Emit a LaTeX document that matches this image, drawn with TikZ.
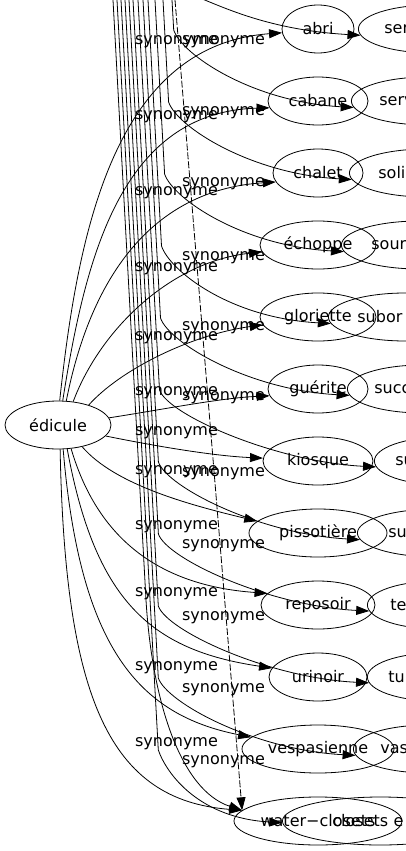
\documentclass[tikz,border=0pt]{standalone}
\usepackage{fontspec}
\setmainfont{DejaVu Sans}
\usetikzlibrary{arrows.meta,shapes.geometric}
\begin{document}
\begin{tikzpicture}[x=1pt,y=-1pt,
  every node/.style={font=\fontsize{16}{19}\selectfont},
  wnode/.style={ellipse, draw, line width=0.8pt, inner sep=0pt, minimum height=48pt},
  frag/.style={ellipse, draw, line width=0.8pt, inner sep=0pt, minimum height=48pt,
    text width=96pt, align=left, anchor=west},
  lbl/.style={inner sep=0pt},
  e/.style={line width=0.8pt, -{Triangle[length=13pt,width=9pt]}},
  de/.style={e, dash pattern=on 7pt off 2pt},
]
\useasboundingbox (0,0) rectangle (406,851);
\clip (0,0) rectangle (406,851);

% source node
\node[wnode, minimum width=106pt] (edicule) at (58,425) {édicule};

% rank 1
\node[wnode, minimum width=72pt]  (abri)        at (318,29)  {abri};
\node[wnode, minimum width=100pt] (cabane)      at (318,101) {cabane};
\node[wnode, minimum width=90pt]  (chalet)      at (318,173) {chalet};
\node[wnode, minimum width=116pt] (echoppe)     at (318,245) {échoppe};
\node[wnode, minimum width=116pt] (gloriette)   at (318,317) {gloriette};
\node[wnode, minimum width=100pt] (guerite)     at (318,389) {guérite};
\node[wnode, minimum width=110pt] (kiosque)     at (318,461) {kiosque};
\node[wnode, minimum width=138pt] (pissotiere)  at (318,533) {pissotière};
\node[wnode, minimum width=114pt] (reposoir)    at (318,605) {reposoir};
\node[wnode, minimum width=98pt]  (urinoir)     at (318,677) {urinoir};
\node[wnode, minimum width=152pt] (vespasienne) at (318,749) {vespasienne};
\node[wnode, minimum width=168pt] (wc)          at (318,821) {water−closets};

% rank 2 (cut by the right edge)
\node[frag, minimum width=148pt] (f0)  at (358,29)  {ser};
\node[frag, minimum width=152pt] (f1)  at (351,101) {serv};
\node[frag, minimum width=154pt] (f2)  at (349,173) {soli};
\node[frag, minimum width=156pt] (f3)  at (341,245) {sour};
\node[frag, minimum width=154pt] (f4)  at (328,317) {subor};
\node[frag, minimum width=150pt] (f5)  at (347,389) {succ};
\node[frag, minimum width=138pt] (f6)  at (374,461) {su};
\node[frag, minimum width=158pt] (f7)  at (357,533) {suj};
\node[frag, minimum width=142pt] (f8)  at (367,605) {te};
\node[frag, minimum width=138pt] (f9)  at (367,677) {tu};
\node[frag, minimum width=150pt] (f10) at (353,749) {vas};
\node[frag, minimum width=196pt] (f11) at (282,821) {closets e};

% free ends at the top edge
\coordinate (t0)  at (195,-4);
\coordinate (t1)  at (172,0);
\coordinate (t2)  at (163,0);
\coordinate (t3)  at (155,0);
\coordinate (t4)  at (148,0);
\coordinate (t5)  at (143,0);
\coordinate (t6)  at (138,0);
\coordinate (t7)  at (133,0);
\coordinate (t8)  at (129,0);
\coordinate (t9)  at (125,0);
\coordinate (t10) at (121,0);
\coordinate (t11) at (117,0);
\coordinate (t12) at (113,0);
\coordinate (t13) at (175,0);

% edges from edicule
\draw[e] (edicule.86)  .. controls (78,230)  and (115,45)  .. (abri.186);
\draw[e] (edicule.79)  .. controls (85,260)  and (120,112) .. (cabane.188);
\draw[e] (edicule.71)  .. controls (90,280)  and (150,190) .. (chalet.192);
\draw[e] (edicule.57)  .. controls (100,330) and (170,262) .. (echoppe.187);
\draw[e] (edicule.33)  .. controls (120,370) and (190,335) .. (gloriette.188);
\draw[e] (edicule.8)   .. controls (160,410) and (220,398) .. (guerite.188);
\draw[e] (edicule.-13) .. controls (160,447) and (215,456) .. (kiosque.177);
\draw[e] (edicule.-42) .. controls (115,485) and (190,505) .. (pissotiere.169);
\draw[e] (edicule.-61) .. controls (95,530)  and (150,585) .. (reposoir.167);
\draw[e] (edicule.-69) .. controls (95,600)  and (150,650) .. (urinoir.169);
\draw[e] (edicule.-78) .. controls (80,650)  and (140,715) .. (vespasienne.170);
\draw[e] (edicule.-85) .. controls (65,700)  and (110,800) .. (wc.172);

% edges from above
\draw[e] (t0) .. controls (225,8) and (270,30) .. (f0.185);
\draw[e] (t1)  -- (173.7,30)  .. controls (182,55)  and (253,102) .. (f1.185);
\draw[e] (t2)  -- (168.6,102) .. controls (177,127) and (251,174) .. (f2.185);
\draw[e] (t3)  -- (164.6,174) .. controls (173,199) and (243,246) .. (f3.185);
\draw[e] (t4)  -- (161.5,246) .. controls (170,271) and (230,318) .. (f4.185);
\draw[e] (t5)  -- (160.5,318) .. controls (169,343) and (249,390) .. (f5.185);
\draw[e] (t6)  -- (159.5,390) .. controls (168,415) and (276,462) .. (f6.185);
\draw[e] (t7)  -- (158.4,462) .. controls (167,487) and (259,534) .. (f7.185);
\draw[e] (t8)  -- (158.4,534) .. controls (167,559) and (269,606) .. (f8.185);
\draw[e] (t9)  -- (158.3,606) .. controls (167,631) and (269,678) .. (f9.185);
\draw[e] (t10) -- (158.3,678) .. controls (167,703) and (255,750) .. (f10.185);
\draw[e] (t11) -- (158.3,750) .. controls (167,775) and (200,818) .. (f11.181);
\draw[e] (t12) -- (146,600) .. controls (152,700) and (180,790) .. (wc.172);
\draw[de] (t13) -- (wc.172);

% labels of the edges from above
\node[lbl] (la0)  at (176.5,42)  {synonyme};
\node[lbl] (la1)  at (176.5,117) {synonyme};
\node[lbl] (la2)  at (176.5,193) {synonyme};
\node[lbl] (la3)  at (176.5,269) {synonyme};
\node[lbl] (la4)  at (176.5,338) {synonyme};
\node[lbl] (la5)  at (176.5,393) {synonyme};
\node[lbl] (la6)  at (176.5,433) {synonyme};
\node[lbl] (la7)  at (176.5,472) {synonyme};
\node[lbl] (la8)  at (176.5,527) {synonyme};
\node[lbl] (la9)  at (176.5,594) {synonyme};
\node[lbl] (la10) at (176.5,668) {synonyme};
\node[lbl] (la11) at (176.5,744) {synonyme};
% labels of the edges from edicule
\node[lbl] (lb0)  at (223.5,42)  {synonyme};
\node[lbl] (lb1)  at (223.5,113) {synonyme};
\node[lbl] (lb2)  at (223.5,184) {synonyme};
\node[lbl] (lb3)  at (223.5,258) {synonyme};
\node[lbl] (lb4)  at (223.5,328) {synonyme};
\node[lbl] (lb5)  at (223.5,398) {synonyme};
\node[lbl] (lb6)  at (223.5,474) {synonyme};
\node[lbl] (lb7)  at (223.5,546) {synonyme};
\node[lbl] (lb8)  at (223.5,618) {synonyme};
\node[lbl] (lb9)  at (223.5,690) {synonyme};
\node[lbl] (lb10) at (223.5,762) {synonyme};
\end{tikzpicture}
\end{document}
